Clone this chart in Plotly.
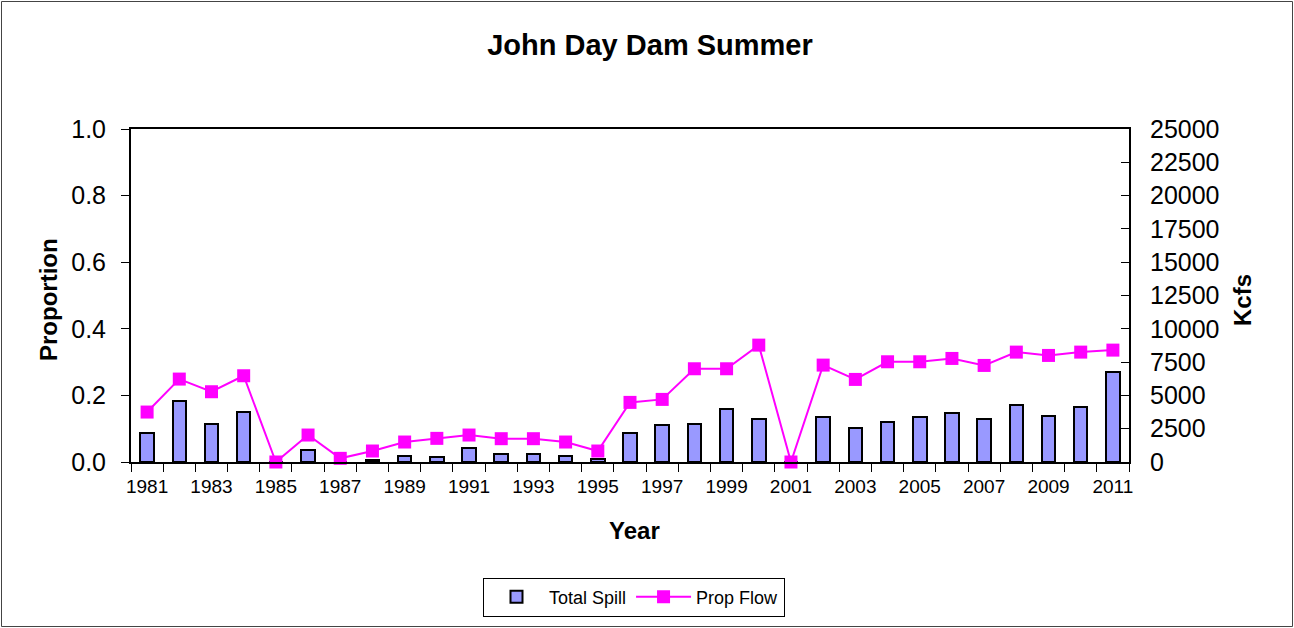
import plotly.graph_objects as go

years = list(range(1981, 2012))
total_spill = [2180, 4580, 2830, 3780, 0, 880, 0, 150, 450, 380, 1050, 620, 620, 450, 230,
               2180, 2800, 2880, 3950, 3250, 0, 3400, 2550, 3000, 3400, 3680, 3250, 4280, 3430, 4100, 6760]
prop_flow = [0.150, 0.249, 0.211, 0.259, 0.0, 0.081, 0.011, 0.033, 0.060, 0.071, 0.081, 0.070, 0.070,
             0.060, 0.033, 0.179, 0.188, 0.280, 0.280, 0.351, 0.0, 0.291, 0.248, 0.301, 0.301, 0.311,
             0.290, 0.330, 0.320, 0.330, 0.336]
tick_years = list(range(1981, 2012, 2))

FONT = "Arial, Liberation Sans, sans-serif"

fig = go.Figure()
fig.add_trace(go.Bar(
    x=years, y=total_spill, name="Total Spill", yaxis="y",
    width=0.42, marker=dict(color="#9999FF", line=dict(color="black", width=2)),
))
fig.add_trace(go.Scatter(
    x=years, y=prop_flow, name="Prop Flow", yaxis="y2", mode="lines+markers",
    line=dict(color="#FF00FF", width=2), cliponaxis=False,
    marker=dict(symbol="square", size=13, color="#FF00FF"),
))

W, H = 1294, 628
L, R, T, B = 131, W - 1129, 129, H - 462
pw, ph = W - L - R, H - T - B

fig.update_layout(
    width=W, height=H,
    margin=dict(l=L, r=R, t=T, b=B, pad=0),
    paper_bgcolor="white", plot_bgcolor="white",
    font=dict(family=FONT, color="black"),
    title=dict(text="<b>John Day Dam Summer</b>", x=650 / W, xanchor="center",
               y=1 - 45 / H, yanchor="middle", font=dict(size=29, family=FONT)),
    showlegend=True,
    legend=dict(orientation="h", x=(634 - L) / pw, y=(462 - 597) / ph, xanchor="center", yanchor="middle",
                bordercolor="black", borderwidth=1, font=dict(size=18, family=FONT),
                itemwidth=55, bgcolor="white"),
    bargap=0,
    xaxis=dict(
        range=[1980.5, 2011.5], tickmode="array", tickvals=tick_years,
        ticktext=[str(y) for y in tick_years], ticks="", ticklen=0,
        showline=True, linecolor="black", linewidth=2, mirror=True,
        showgrid=False, zeroline=False, tickfont=dict(size=19),
        ticklabelstandoff=6,
        minor=dict(tickvals=[y - 0.5 for y in years] + [2011.5], ticks="outside",
                   ticklen=8, tickcolor="black", tickwidth=1, showgrid=False),
    ),
    yaxis=dict(
        side="right", range=[0, 25000], dtick=2500, tickmode="linear", tick0=0,
        tickformat="d",
        ticks="inside", ticklen=8, tickcolor="black",
        showline=True, linecolor="black", linewidth=2,
        showgrid=False, zeroline=False, tickfont=dict(size=25),
        ticklabelstandoff=14,
    ),
    yaxis2=dict(
        overlaying="y", side="left", range=[0, 1], dtick=0.2, tickmode="linear", tick0=0,
        tickformat=".1f", ticks="outside", ticklen=8, tickcolor="black",
        showline=True, linecolor="black", linewidth=2,
        showgrid=False, zeroline=False, tickfont=dict(size=25),
        ticklabelstandoff=10,
    ),
    annotations=[
        dict(text="<b>Year</b>", x=(634 - L) / pw, y=(462 - 530) / ph, xref="paper", yref="paper",
             showarrow=False, font=dict(size=24, family=FONT), xanchor="center", yanchor="middle"),
        dict(text="<b>Proportion</b>", x=(48 - L) / pw, y=(462 - 300) / ph, xref="paper", yref="paper",
             showarrow=False, textangle=-90, font=dict(size=24, family=FONT), xanchor="center", yanchor="middle"),
        dict(text="<b>Kcfs</b>", x=(1242 - L) / pw, y=(462 - 300) / ph, xref="paper", yref="paper",
             showarrow=False, textangle=-90, font=dict(size=24, family=FONT), xanchor="center", yanchor="middle"),
    ],
    shapes=[
        dict(type="rect", xref="paper", yref="paper",
             x0=(1.5 - L) / pw, x1=(1292.5 - L) / pw, y0=(462 - 626.5) / ph, y1=(462 - 1.5) / ph,
             line=dict(color="#444444", width=1), fillcolor="rgba(0,0,0,0)", layer="below"),
    ],
)

fig.write_html("out.html", config={"displayModeBar": False},
               post_script="document.body.style.margin='0';document.body.style.overflow='hidden';")
